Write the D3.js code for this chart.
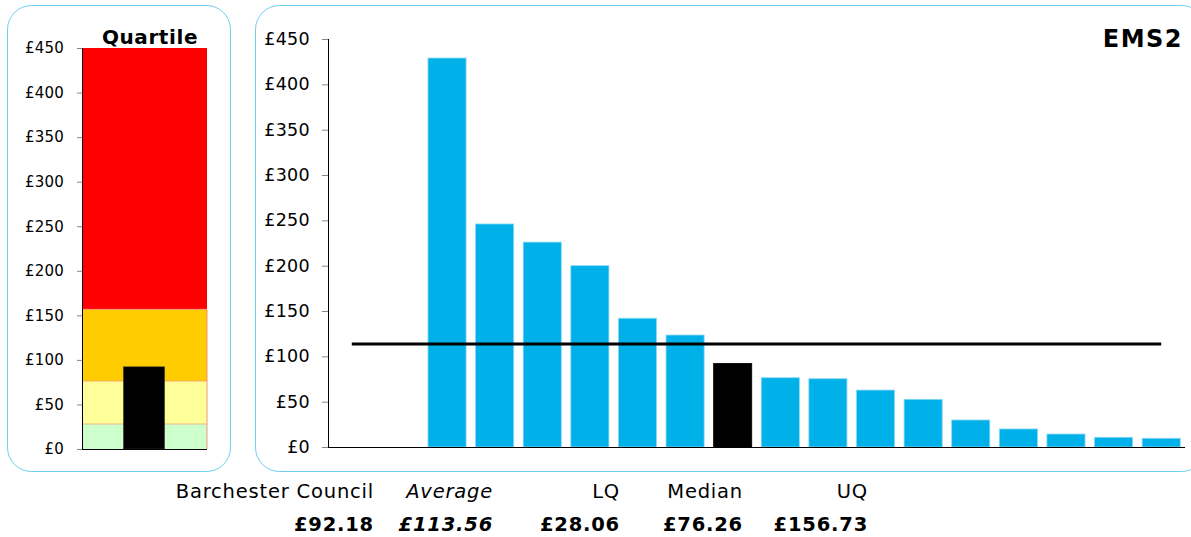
<!DOCTYPE html>
<html>
<head>
<meta charset="utf-8">
<script src="https://cdn.jsdelivr.net/npm/d3@7/dist/d3.min.js"></script>
<style>
  html, body { margin: 0; padding: 0; background: #fff; }
  svg { display: block; font-family: "DejaVu Sans", Verdana, sans-serif; }
</style>
</head>
<body>
<svg id="chart" width="1191" height="537"></svg>
<script>
// Cost per head for EMS2, ranked by authority (first two slots are empty)
const categories = ["c1","c2","c3","c4","c5","c6","c7","c8","c9","c10","c11","c12","c13","c14","c15","c16","c17","c18"];
const values = [null, null, 429, 246, 226, 200, 142, 123.5, 92.18, 76.4, 75.3, 62.8, 52.6, 29.8, 19.9, 14.3, 10.7, 9.6];
const highlightIndex = 8;          // Barchester Council
const yTicks = [0, 50, 100, 150, 200, 250, 300, 350, 400, 450];

// Summary figures
const councilValue = 92.18;
const averageValue = 113.56;
const lowerQuartile = 28.06;
const medianValue = 76.26;
const upperQuartile = 156.73;
const summaryLabels = ["Barchester Council", "Average", "LQ", "Median", "UQ"];
const summaryValues = [councilValue, averageValue, lowerQuartile, medianValue, upperQuartile];
const bandColours = ["#ccffcc", "#ffff99", "#ffcc00", "#ff0000"];

const svg = d3.select("#chart");
const fmt = v => "£" + d3.format(",.0f")(v);
const money = v => "£" + d3.format(".2f")(v);

// Panel frames
svg.append("rect").attr("x", 7.5).attr("y", 5.5).attr("width", 223).attr("height", 466)
  .attr("rx", 24).attr("fill", "none").attr("stroke", "#6fcdf0").attr("stroke-width", 1);
svg.append("rect").attr("x", 255.5).attr("y", 5.5).attr("width", 950).attr("height", 466)
  .attr("rx", 24).attr("fill", "none").attr("stroke", "#6fcdf0").attr("stroke-width", 1);

// ---------- Quartile panel ----------
const qy = d3.scaleLinear().domain([0, 450]).range([449, 48]);
const qx0 = 82, qx1 = 207;
const bands = [0, lowerQuartile, medianValue, upperQuartile, 450];
const q = svg.append("g");
q.selectAll("rect.band").data(bandColours).join("rect")
  .attr("class", "band")
  .attr("x", qx0).attr("width", qx1 - qx0)
  .attr("y", (d, i) => qy(bands[i + 1]))
  .attr("height", (d, i) => qy(bands[i]) - qy(bands[i + 1]))
  .attr("fill", d => d);
q.selectAll("line.bandedge").data(bands.slice(1, 4)).join("line")
  .attr("class", "bandedge")
  .attr("x1", qx0).attr("x2", qx1).attr("y1", d => qy(d)).attr("y2", d => qy(d))
  .attr("stroke", "#f3a07a").attr("stroke-width", 0.8);
q.append("rect")
  .attr("x", 123.5).attr("width", 41)
  .attr("y", qy(councilValue)).attr("height", qy(0) - qy(councilValue))
  .attr("fill", "#000").attr("stroke", "#333").attr("stroke-width", 0.6);
q.append("line").attr("x1", qx1).attr("x2", qx1).attr("y1", qy(0)).attr("y2", qy(upperQuartile))
  .attr("stroke", "#f08060").attr("stroke-width", 0.8);
q.append("line").attr("x1", qx0).attr("x2", qx1).attr("y1", qy(0) + 0.5).attr("y2", qy(0) + 0.5)
  .attr("stroke", "#000").attr("stroke-width", 1);

const qAxis = q.append("g").attr("transform", `translate(${qx0},0)`)
  .call(d3.axisLeft(qy).tickValues(yTicks).tickFormat(fmt).tickSize(5).tickPadding(13));
qAxis.attr("font-size", null).attr("font-family", null);
qAxis.select(".domain").attr("stroke", "#000").attr("d", `M0.5,${qy(450)}V${qy(0)}`);
qAxis.selectAll(".tick line").attr("stroke", "#888");
qAxis.selectAll(".tick text").style("font-size", "15px").style("letter-spacing", "0.2px").attr("fill", "#000");

svg.append("text").attr("x", 150).attr("y", 44).attr("text-anchor", "middle")
  .style("font-size", "20px").style("letter-spacing", "0.6px").attr("font-weight", "bold").text("Quartile");

// ---------- Ranked bar panel ----------
const x = d3.scaleBand().domain(categories).range([328, 1185]).paddingInner(0.2).paddingOuter(0.1);
const y = d3.scaleLinear().domain([0, 450]).range([447, 39]);
const main = svg.append("g");

main.selectAll("rect.bar").data(values.map((v, i) => ({ v, i })).filter(d => d.v !== null)).join("rect")
  .attr("class", "bar")
  .attr("x", d => x(categories[d.i]))
  .attr("width", x.bandwidth())
  .attr("y", d => y(d.v))
  .attr("height", d => y(0) - y(d.v))
  .attr("fill", d => d.i === highlightIndex ? "#000" : "#00b0e8")
  .attr("stroke", d => d.i === highlightIndex ? "#000" : "#8ad8f5")
  .attr("stroke-width", 0.8);

const yAxis = main.append("g").attr("transform", "translate(328,0)")
  .call(d3.axisLeft(y).tickValues(yTicks).tickFormat(fmt).tickSize(6).tickPadding(12));
yAxis.attr("font-size", null).attr("font-family", null);
yAxis.select(".domain").attr("stroke", "#000").attr("d", `M0.5,${y(450)}V${y(0)}`);
yAxis.selectAll(".tick line").attr("stroke", "#888");
yAxis.selectAll(".tick text").style("font-size", "17.5px").style("letter-spacing", "0.3px").attr("fill", "#000");

main.append("line").attr("x1", 328).attr("x2", 1185).attr("y1", y(0) + 0.5).attr("y2", y(0) + 0.5)
  .attr("stroke", "#000").attr("stroke-width", 1.2);

// Average line from first to last category centre
const half = x.bandwidth() / 2;
main.append("line")
  .attr("x1", x(categories[0]) + half).attr("x2", x(categories[categories.length - 1]) + half)
  .attr("y1", y(averageValue)).attr("y2", y(averageValue))
  .attr("stroke", "#000").attr("stroke-width", 3);

svg.append("text").attr("x", 1183).attr("y", 47).attr("text-anchor", "end")
  .style("font-size", "24px").style("letter-spacing", "1.5px").attr("font-weight", "bold").text("EMS2");

// ---------- Summary labels ----------
const labelRight = [374, 493, 620, 743, 868];
const summary = svg.append("g").style("font-size", "19.5px").style("letter-spacing", "0.8px");
summary.selectAll("text.lbl").data(summaryLabels).join("text")
  .attr("class", "lbl")
  .attr("x", (d, i) => labelRight[i]).attr("y", 498).attr("text-anchor", "end")
  .attr("font-style", (d, i) => i === 1 ? "italic" : null)
  .text(d => d);
summary.selectAll("text.val").data(summaryValues).join("text")
  .attr("class", "val")
  .attr("x", (d, i) => labelRight[i]).attr("y", 531).attr("text-anchor", "end")
  .attr("font-weight", "bold")
  .attr("font-style", (d, i) => i === 1 ? "italic" : null)
  .text(d => money(d));
</script>
</body>
</html>
